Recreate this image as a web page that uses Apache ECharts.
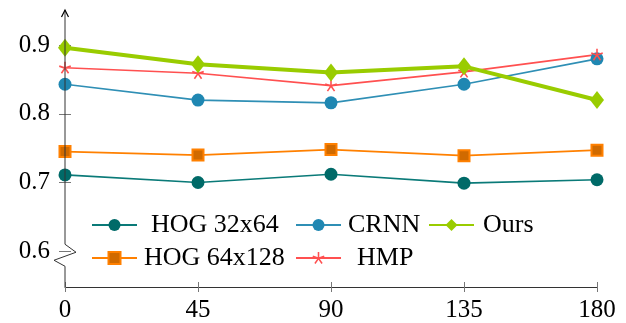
<!DOCTYPE html>
<html>
<head>
<meta charset="utf-8">
<script src="https://cdn.jsdelivr.net/npm/echarts@6/dist/echarts.min.js"></script>
<style>
html,body{margin:0;padding:0;background:#fff;}
#c{width:626px;height:323px;}
</style>
</head>
<body>
<div id="c"></div>
<script>
// ---- data ----
const xValues = [0, 45, 90, 135, 180];
const xTicks = [0, 45, 90, 135, 180];
const yTicks = [0.6, 0.7, 0.8, 0.9];
const hog32 = [0.711, 0.700, 0.712, 0.699, 0.704];
const hog64 = [0.745, 0.740, 0.748, 0.739, 0.747];
const crnn  = [0.843, 0.820, 0.816, 0.843, 0.880];
const hmp   = [0.867, 0.859, 0.841, 0.861, 0.886];
const ours  = [0.896, 0.872, 0.860, 0.869, 0.820];
const names = ['HOG 32x64', 'HOG 64x128', 'CRNN', 'HMP', 'Ours'];

const FONT = '"Liberation Serif", "DejaVu Serif", serif';

// star (asterisk) symbol path: 5 thin spokes
function starPath() {
  let d = '';
  const r = 10, w = 1.3;
  for (let k = 0; k < 5; k++) {
    const a = (-90 + k * 72) * Math.PI / 180;
    const ux = Math.cos(a), uy = Math.sin(a);
    const px = -uy * w, py = ux * w;
    const pts = [[px, py], [px + ux * r, py + uy * r], [-px + ux * r, -py + uy * r], [-px, -py]];
    d += 'M' + pts.map(p => p[0].toFixed(2) + ' ' + p[1].toFixed(2)).join(' L') + ' Z ';
  }
  return 'path://' + d;
}

function pairs(arr) { return xValues.map((x, i) => [x, arr[i]]); }

const chart = echarts.init(document.getElementById('c'), null, {renderer: 'canvas'});

const yMin = 0.548, yMax = 0.951;

function legendItem(name, left, top, pad) {
  return {
    data: [name], left: left, top: top, padding: 0,
    itemWidth: 45, itemHeight: 15, selectedMode: false,
    textStyle: {fontFamily: FONT, fontSize: 26, color: '#000', padding: [0, 0, 0, pad]}
  };
}

const option = {
  animation: false,
  backgroundColor: '#fff',
  textStyle: {fontFamily: FONT},
  grid: {left: 65, right: 29, top: 10, bottom: 35, containLabel: false},
  xAxis: [{
    type: 'value', min: 0, max: 180, interval: 45,
    axisLine: {show: true, lineStyle: {color: '#333', width: 1}},
    axisTick: {show: true, length: 5, lineStyle: {color: '#777'}},
    axisLabel: {fontFamily: FONT, fontSize: 25, color: '#000', margin: 11, customValues: xTicks},
    splitLine: {show: false}
  }, {
    type: 'value', min: 0, max: 180, interval: 45, position: 'bottom', offset: 0,
    axisLine: {show: false},
    axisTick: {show: true, inside: true, length: 5, lineStyle: {color: '#777'}},
    axisLabel: {show: false}, splitLine: {show: false}
  }],
  yAxis: [{
    type: 'value', min: yMin, max: yMax,
    axisLine: {show: false},
    axisTick: {show: true, length: 6, customValues: yTicks, lineStyle: {color: '#777'}},
    axisLabel: {fontFamily: FONT, fontSize: 25, color: '#000', margin: 15, customValues: yTicks,
      formatter: v => v.toFixed(1)},
    splitLine: {show: false}
  }, {
    type: 'value', min: yMin, max: yMax, position: 'left', offset: 0,
    axisLine: {show: false},
    axisTick: {show: true, inside: true, length: 6, customValues: yTicks, lineStyle: {color: '#777'}},
    axisLabel: {show: false}, splitLine: {show: false}
  }],
  legend: [
    legendItem('HOG 32x64', 91, 212, 9),
    legendItem('CRNN', 295, 212, 2),
    legendItem('Ours', 428, 212, 4),
    legendItem('HOG 64x128', 91, 245, 2),
    legendItem('HMP', 295, 245, 11)
  ],
  series: [
    {
      name: 'HOG 32x64', type: 'line', data: pairs(hog32),
      symbol: 'circle', symbolSize: 13,
      lineStyle: {color: '#0a7a78', width: 1.7},
      itemStyle: {color: '#006a68'}
    },
    {
      name: 'HOG 64x128', type: 'line', data: pairs(hog64),
      symbol: 'rect', symbolSize: 11,
      lineStyle: {color: '#ff8000', width: 1.7},
      itemStyle: {color: '#d06a00', borderColor: '#ff8000', borderWidth: 2}
    },
    {
      name: 'CRNN', type: 'line', data: pairs(crnn),
      symbol: 'circle', symbolSize: 13,
      lineStyle: {color: '#2f8fb5', width: 1.7},
      itemStyle: {color: '#1f87b2'}
    },
    {
      name: 'HMP', type: 'line', data: pairs(hmp),
      symbol: starPath(), symbolSize: 12,
      lineStyle: {color: '#ff5050', width: 1.7},
      itemStyle: {color: '#ff5050'}
    },
    {
      name: 'Ours', type: 'line', data: pairs(ours),
      symbol: 'diamond', symbolSize: [14, 18],
      lineStyle: {color: '#99cc00', width: 4},
      itemStyle: {color: '#99cc00'}
    }
  ]
};

chart.setOption(option);

// y axis line with break zigzag and arrow
const pTop = chart.convertToPixel({gridIndex: 0}, [0, yMax]);
const pBot = chart.convertToPixel({gridIndex: 0}, [0, yMin]);
const p06 = chart.convertToPixel({gridIndex: 0}, [0, 0.6]);
const x0 = pTop[0];
const yb = p06[1];
const axisColor = '#333';
chart.setOption({
  graphic: [
    {
      type: 'polyline', z: 100,
      shape: {points: [
        [x0, pTop[1]], [x0, yb - 7], [x0 + 11, yb + 1], [x0 - 11, yb + 9], [x0, yb + 15], [x0, pBot[1]]
      ]},
      style: {stroke: axisColor, lineWidth: 1, fill: null}
    },
    {
      type: 'polyline', z: 100,
      shape: {points: [[x0 - 3.5, pTop[1] + 7], [x0, pTop[1]], [x0 + 3.5, pTop[1] + 7]]},
      style: {stroke: '#000', lineWidth: 1.2, fill: null}
    }
  ]
});
</script>
</body>
</html>
